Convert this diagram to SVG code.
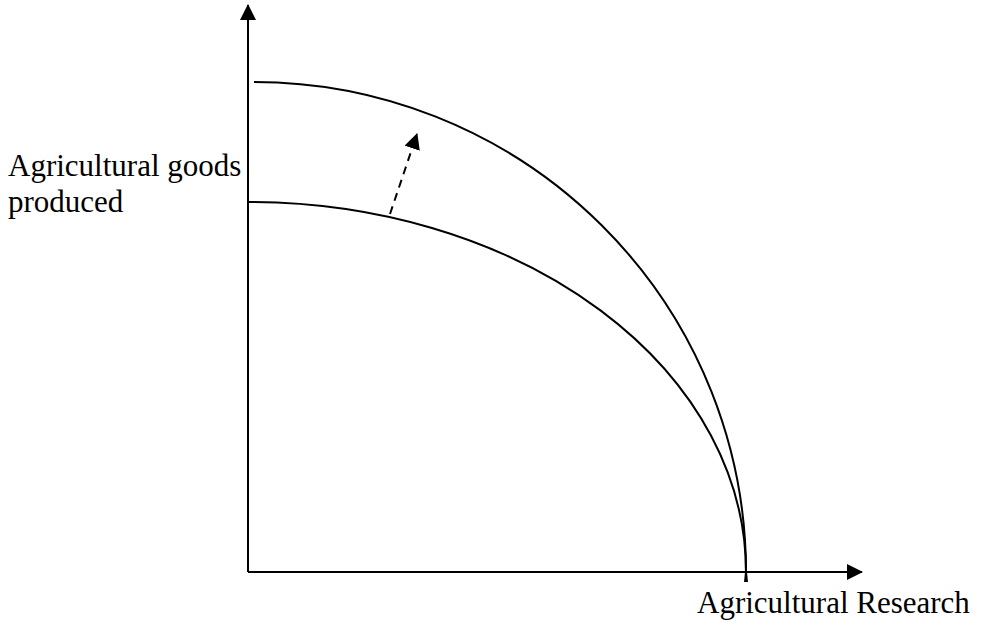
<svg xmlns="http://www.w3.org/2000/svg" width="982" height="622" viewBox="0 0 982 622">
<style>
.ax{stroke:#000;stroke-width:2;fill:none}
.cv{stroke:#000;stroke-width:2;fill:none}
.lbl{font-family:"Liberation Serif","Times New Roman",serif;font-size:31px;fill:#000}
</style>
<defs>
<marker id="ah" markerWidth="16" markerHeight="16" refX="15" refY="8" orient="auto" markerUnits="userSpaceOnUse">
<path d="M0,0 L16,8 L0,16 Z" fill="#000"/>
</marker>
</defs>
<rect width="982" height="622" fill="#fff"/>
<g id="connectors">
<line class="ax" x1="248" y1="572" x2="248" y2="5" marker-end="url(#ah)"/>
<line class="ax" x1="248" y1="572" x2="862" y2="572" marker-end="url(#ah)"/>
<line class="ax" x1="390" y1="214" x2="417" y2="134" stroke-dasharray="8,6" marker-end="url(#ah)"/>
</g>
<g id="outer-curve">
<path class="cv" d="M254,82 A492,490 0 0 1 746,572 L747,582"/>
</g>
<g id="inner-curve">
<path class="cv" d="M249,202 A497,370 0 0 1 746,572 L745,582"/>
</g>
<g id="y-label">
<text class="lbl" x="8" y="176">Agricultural goods</text>
<text class="lbl" x="8" y="212">produced</text>
</g>
<g id="x-label">
<text class="lbl" x="697" y="613">Agricultural Research</text>
</g>
</svg>
